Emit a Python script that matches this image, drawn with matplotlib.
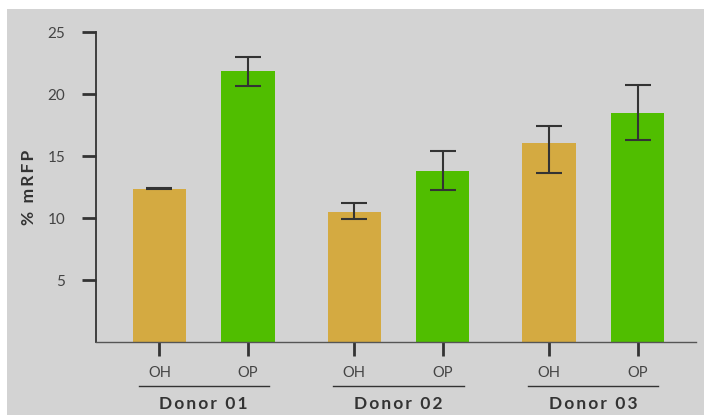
import matplotlib.pyplot as plt
from matplotlib.patches import Rectangle

# values
groups = ['Donor 01', 'Donor 02', 'Donor 03']
conditions = ['OH', 'OP']
oh_vals = [12.35, 10.5, 16.05]
op_vals = [21.85, 13.8, 18.47]
oh_err_lo = [0.05, 0.6, 2.45]
oh_err_hi = [0.05, 0.7, 1.35]
op_err_lo = [1.2, 1.55, 2.2]
op_err_hi = [1.15, 1.6, 2.25]

oh_color = '#D4AA41'
op_color = '#50BE00'
ink = '#333333'


def spaced(s):
    # crude letter spacing with thin spaces
    return '\u2009'.join(s).replace('\u2009 \u2009', '  ')


def main():
    plt.rcParams['font.family'] = ['Lato', 'DejaVu Sans']
    fig = plt.figure(figsize=(7.04, 4.15), dpi=100, facecolor='white')
    # grey panel behind everything
    fig.patches.append(Rectangle((7 / 704, 0), 1, 1 - 9 / 415, transform=fig.transFigure,
                                 facecolor='#D3D3D3', edgecolor='none', zorder=-10))
    ax = fig.add_axes([96 / 704, 1 - 342 / 415, 600 / 704, 310 / 415])
    ax.set_facecolor('#D3D3D3')

    gap = 2.2
    xs_oh = [i * gap for i in range(len(groups))]
    xs_op = [i * gap + 1 for i in range(len(groups))]
    w = 0.6
    ekw = dict(ecolor=ink, elinewidth=1.5, capsize=9.4, capthick=1.5)
    ax.bar(xs_oh, oh_vals, width=w, color=oh_color,
           yerr=[oh_err_lo, oh_err_hi], error_kw=ekw, zorder=2)
    ax.bar(xs_op, op_vals, width=w, color=op_color,
           yerr=[op_err_lo, op_err_hi], error_kw=ekw, zorder=2)

    ax.set_ylim(0, 25)
    ax.set_xlim(-0.717, 6.06)
    ax.set_yticks([5, 10, 15, 20, 25])
    ax.set_yticklabels(['5', '10', '15', '20', '25'], fontsize=11, color='#444444')
    ticks = sorted(xs_oh + xs_op)
    ax.set_xticks(ticks)
    ax.set_xticklabels(conditions * len(groups), fontsize=10.5, color='#444444')
    ax.tick_params(axis='y', length=10, width=2, color=ink, pad=12)
    ax.tick_params(axis='x', length=10, width=2, color=ink, pad=7)

    for s in ['top', 'right']:
        ax.spines[s].set_visible(False)
    ax.spines['left'].set_color(ink)
    ax.spines['left'].set_linewidth(1.3)
    ax.spines['bottom'].set_color('#555555')
    ax.spines['bottom'].set_linewidth(1.0)

    ax.set_ylabel(spaced('% mRFP'), fontsize=12.5, fontweight='bold', color=ink, labelpad=8)

    # group lines and labels below the tick labels
    for i, g in enumerate(groups):
        c = i * gap + 0.5
        ax.plot([c - 0.735, c + 0.735], [-3.55, -3.55], color=ink, lw=1,
                clip_on=False, zorder=3)
        ax.text(c, -5.0, spaced(g), ha='center', va='center', fontsize=12.5,
                fontweight='bold', color=ink, clip_on=False)

    fig.savefig('out.png', dpi=100, facecolor='white')


if __name__ == '__main__':
    main()
